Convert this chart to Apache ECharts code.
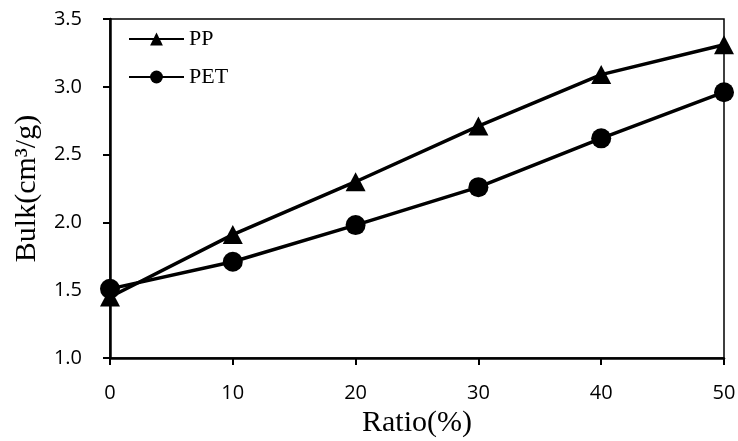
<!DOCTYPE html>
<html><head><meta charset="utf-8">
<script src="https://cdn.jsdelivr.net/npm/echarts@6/dist/echarts.min.js"></script>
<style>html,body{margin:0;padding:0;background:#fff}#c{width:738px;height:441px}</style>
</head><body><div id="c"></div>
<script>
const ratios = [0, 10, 20, 30, 40, 50];
const ppValues = [1.45, 1.91, 2.30, 2.71, 3.09, 3.31];
const petValues = [1.51, 1.71, 1.98, 2.26, 2.62, 2.96];
const seriesNames = ['PP', 'PET'];

const chart = echarts.init(document.getElementById('c'));
function pairs(vals){ return ratios.map((r,i)=>[r, vals[i]]); }
chart.setOption({
  animation: false,
  grid: {left: 110, right: 14, top: 19, bottom: 83, show: true, borderColor: '#000', borderWidth: 1.5, outerBoundsMode: 'none'},
  legend: {
    orient: 'vertical', left: 123, top: 23, itemWidth: 55, itemHeight: 16, itemGap: 16,
    textStyle: {fontFamily: 'Liberation Serif', fontSize: 22, color: '#000'},
    data: seriesNames
  },
  xAxis: {
    type: 'value', min: 0, max: 50, interval: 10,
    name: 'Ratio(%)', nameLocation: 'middle', nameGap: 50, nameMoveOverlap: false,
    nameTextStyle: {fontFamily: 'Liberation Serif', fontSize: 30, color: '#000'},
    axisLine: {lineStyle: {color: '#000', width: 2.5}},
    axisTick: {show: true, length: 7, lineStyle: {color: '#000', width: 2}},
    axisLabel: {margin: 25, fontFamily: 'Open Sans', fontSize: 20, color: '#000'},
    splitLine: {show: false}
  },
  yAxis: {
    type: 'value', min: 1.0, max: 3.5, interval: 0.5,
    name: 'Bulk(cm³/g)', nameLocation: 'middle', nameGap: 68, nameMoveOverlap: false,
    nameTextStyle: {fontFamily: 'Liberation Serif', fontSize: 30, color: '#000'},
    axisLine: {show: true, lineStyle: {color: '#000', width: 2.5}},
    axisTick: {show: true, length: 7, lineStyle: {color: '#000', width: 2}},
    axisLabel: {margin: 28, fontFamily: 'Open Sans', fontSize: 20, color: '#000', formatter: v => v.toFixed(1)},
    splitLine: {show: false}
  },
  series: [
    {name: seriesNames[0], type: 'line', data: pairs(ppValues), symbol: 'triangle', symbolSize: [20, 19],
     lineStyle: {color: '#000', width: 3.5}, itemStyle: {color: '#000'}},
    {name: seriesNames[1], type: 'line', data: pairs(petValues), symbol: 'circle', symbolSize: 20,
     lineStyle: {color: '#000', width: 3.5}, itemStyle: {color: '#000'}}
  ]
});
</script></body></html>
